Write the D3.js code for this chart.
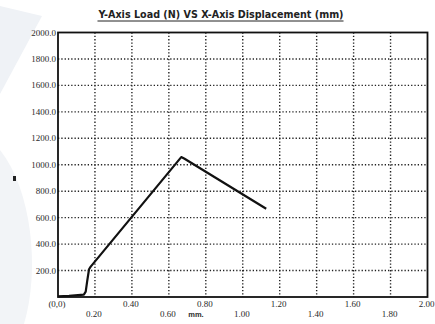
<!DOCTYPE html>
<html><head><meta charset="utf-8">
<script src="https://cdn.jsdelivr.net/npm/d3@7"></script>
<style>
html,body{margin:0;padding:0;background:#fff;}
svg{display:block;}
</style></head>
<body>
<svg id="chart" width="435" height="324"></svg>
<script>
const title = "Y-Axis Load (N) VS X-Axis Displacement (mm)";
const xLabel = "mm.";
const displacement = [0, 0.06, 0.14, 0.150, 0.158, 0.168, 0.177, 0.667, 0.685, 1.127];
const load =         [5, 8,    18,   40,    120,   210,   230,   1058,  1045,  667];
const xTicks = [0.2, 0.4, 0.6, 0.8, 1.0, 1.2, 1.4, 1.6, 1.8, 2.0];
const xTickLabels = ["0.20","0.40","0.60","0.80","1.00","1.20","1.40","1.60","1.80","2.00"];
const yTicks = [200, 400, 600, 800, 1000, 1200, 1400, 1600, 1800, 2000];
const yTickLabels = ["200.0","400.0","600.0","800.0","1000.0","1200.0","1400.0","1600.0","1800.0","2000.0"];
const originLabel = "(0,0)";

const svg = d3.select("#chart");
const m = {left: 58, right: 427.5, top: 32.5, bottom: 297};
const x = d3.scaleLinear().domain([0, 2]).range([m.left, m.right]);
const y = d3.scaleLinear().domain([0, 2000]).range([m.bottom, m.top]);

// faint background watermark shapes
svg.append("path").attr("d", "M0,6 L42,16 L0,94 Z").attr("fill", "#eff2f6");
svg.append("path").attr("d", "M0,150 C32,190 40,270 24,324 L0,324 Z").attr("fill", "#f2f4f7");

// grid lines
const gridX = xTicks.filter(d => d < 2);
const gridY = yTicks.filter(d => d < 2000);
const g = svg.append("g");
g.selectAll("line.gx").data(gridX).join("line")
  .attr("x1", d => x(d)).attr("x2", d => x(d))
  .attr("y1", m.top).attr("y2", m.bottom)
  .attr("stroke", "#222").attr("stroke-width", 1.4).attr("stroke-dasharray", "1.3,2");
g.selectAll("line.gy").data(gridY).join("line")
  .attr("y1", d => y(d)).attr("y2", d => y(d))
  .attr("x1", m.left).attr("x2", m.right)
  .attr("stroke", "#222").attr("stroke-width", 1.4).attr("stroke-dasharray", "1.3,2");

// border
svg.append("rect").attr("x", m.left).attr("y", m.top)
  .attr("width", m.right - m.left).attr("height", m.bottom - m.top)
  .attr("fill", "none").attr("stroke", "#111").attr("stroke-width", 1.8);

const tickFont = "Liberation Serif, serif";
// y tick labels
svg.selectAll("text.yl").data(yTicks).join("text")
  .attr("x", m.left - 2).attr("y", d => y(d) + 3)
  .attr("text-anchor", "end").attr("font-family", tickFont)
  .attr("font-size", 9).attr("fill", "#2a2a2a")
  .text((d, i) => yTickLabels[i]);

// x tick labels (staggered)
svg.selectAll("text.xl").data(xTicks).join("text")
  .attr("x", d => x(d) - 1)
  .attr("y", (d, i) => i % 2 === 0 ? 316.5 : 306.5)
  .attr("text-anchor", "middle").attr("font-family", tickFont)
  .attr("font-size", 9).attr("fill", "#2a2a2a")
  .text((d, i) => xTickLabels[i]);

svg.append("text").attr("x", x(0) - 1).attr("y", 306.5).attr("text-anchor", "middle")
  .attr("font-family", tickFont).attr("font-size", 9).attr("fill", "#2a2a2a")
  .text(originLabel);

svg.append("text").attr("x", 196).attr("y", 317).attr("text-anchor", "middle")
  .attr("font-family", "Liberation Sans, sans-serif").attr("font-weight", "bold")
  .attr("font-size", 7.5).attr("fill", "#2a2a2a").text(xLabel);

// small y-axis marker
svg.append("rect").attr("x", 13).attr("y", 176).attr("width", 3).attr("height", 5).attr("fill", "#222");

// title
const t = svg.append("text").attr("x", 221).attr("y", 18).attr("text-anchor", "middle")
  .attr("font-family", "DejaVu Sans, sans-serif").attr("font-weight", "bold")
  .attr("font-size", 9.6).attr("fill", "#222").text(title);
const bb = t.node().getBBox();
svg.append("line").attr("x1", bb.x).attr("x2", bb.x + bb.width)
  .attr("y1", 21).attr("y2", 21).attr("stroke", "#222").attr("stroke-width", 1);

// data line
const pts = displacement.map((d, i) => [d, load[i]]);
svg.append("path").datum(pts)
  .attr("d", d3.line().x(d => x(d[0])).y(d => y(d[1])))
  .attr("fill", "none").attr("stroke", "#111").attr("stroke-width", 2.2)
  .attr("stroke-linejoin", "round");
</script>
</body></html>
